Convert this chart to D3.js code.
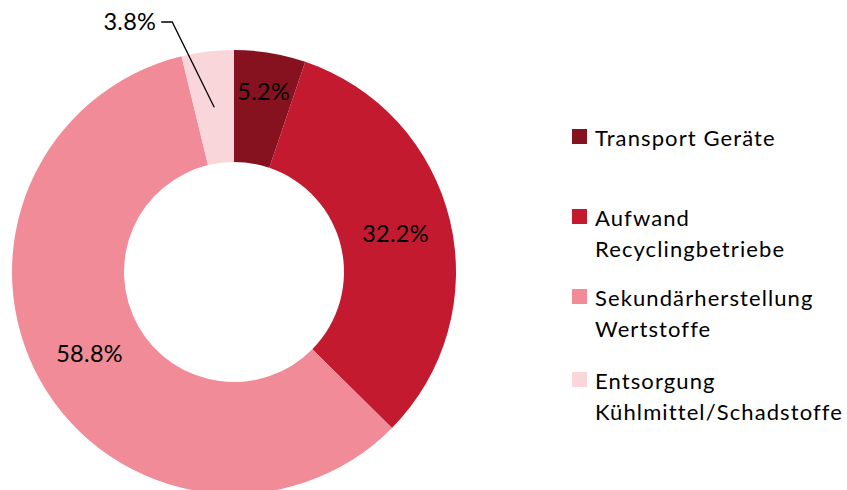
<!DOCTYPE html>
<html><head><meta charset="utf-8">
<script src="https://cdn.jsdelivr.net/npm/d3@7"></script>
<style>body{margin:0;background:#fff}svg{display:block}text{font-family:Lato,"Open Sans",sans-serif;fill:#000}</style>
</head><body>
<svg id="c" width="847" height="490"></svg>
<script>
const categories = ["Transport Geräte", "Aufwand Recyclingbetriebe", "Sekundärherstellung Wertstoffe", "Entsorgung Kühlmittel/Schadstoffe"];
const legendLines = [["Transport Geräte"], ["Aufwand", "Recyclingbetriebe"], ["Sekundärherstellung", "Wertstoffe"], ["Entsorgung", "Kühlmittel/Schadstoffe"]];
const values = [5.2, 32.2, 58.8, 3.8];
const colors = ["#86121F", "#C31A2F", "#F08B97", "#F9D6DA"];

const svg = d3.select("#c");
const cx = 234, cy = 272, rOut = 222, rIn = 110;
const g = svg.append("g").attr("transform", `translate(${cx},${cy})`);
const pie = d3.pie().sort(null).value(d => d)(values);
const arc = d3.arc().innerRadius(rIn).outerRadius(rOut);
g.selectAll("path").data(pie).join("path")
  .attr("d", arc).attr("fill", (d, i) => colors[i]);

const fmt = v => v.toFixed(1) + "%";
const fs = 23.5;
pie.forEach((d, i) => {
  const mid = (d.startAngle + d.endAngle) / 2;
  if (i === 3) {
    const [px, py] = d3.arc().innerRadius(166).outerRadius(166).centroid(d);
    const lx = px - 42, ly = -250;
    g.append("path").attr("d", `M${px},${py}L${lx},${ly}L${lx - 11},${ly}`)
      .attr("fill", "none").attr("stroke", "#000").attr("stroke-width", 1.3);
    g.append("text").attr("x", lx - 16).attr("y", ly).attr("dy", "0.35em")
      .attr("text-anchor", "end").attr("font-size", fs).attr("letter-spacing", 0.3).text(fmt(d.data));
  } else {
    const r = i === 0 ? 183 : 166;
    g.append("text").attr("x", r * Math.sin(mid)).attr("y", -r * Math.cos(mid))
      .attr("dy", "0.35em").attr("text-anchor", "middle").attr("font-size", fs).attr("letter-spacing", 0.3)
      .text(fmt(d.data));
  }
});

const legY = [129, 209, 289, 372];
const leg = svg.append("g");
legendLines.forEach((lines, i) => {
  leg.append("rect").attr("x", 572).attr("y", legY[i]).attr("width", 15).attr("height", 15).attr("fill", colors[i]);
  lines.forEach((t, j) => {
    leg.append("text").attr("x", 595).attr("y", legY[i] + 17 + j * 31)
      .attr("font-size", 22).attr("letter-spacing", 1.1).text(t);
  });
});
</script>
</body></html>
